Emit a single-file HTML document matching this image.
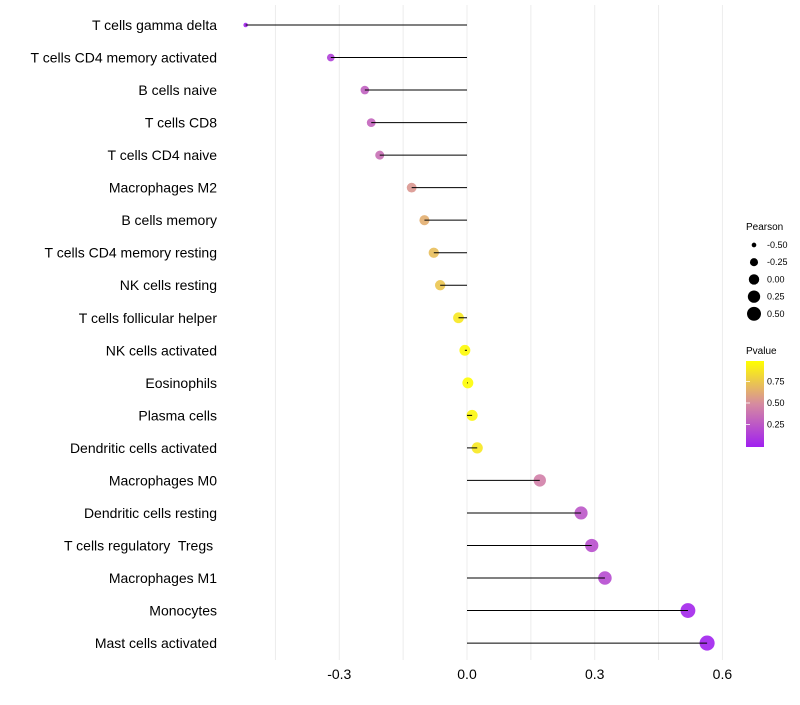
<!DOCTYPE html>
<html><head><meta charset="utf-8"><style>
body{margin:0;background:#fff;font-family:"Liberation Sans",sans-serif}
text{white-space:pre}
</style></head><body>
<svg id="c" width="800" height="700" xmlns="http://www.w3.org/2000/svg">
<defs><linearGradient id="pg" x1="0" y1="1" x2="0" y2="0">
<stop offset="0" stop-color="#a020f0"/><stop offset="0.5" stop-color="#d68ba0"/><stop offset="1" stop-color="#ffff00"/></linearGradient></defs>
<g id="grid"></g><g id="dots"></g><g id="marks"></g><g id="labels"></g>
<g font-size="9" fill="#000">
<text x="746" y="230" font-size="10">Pearson</text>
<g id="sizeleg"></g>
<text x="746" y="354" font-size="10">Pvalue</text>
<rect x="746" y="361" width="18" height="86" fill="url(#pg)"/>
<g id="pleg"></g>
</g>
</svg>
<script>
const categories=["T cells gamma delta","T cells CD4 memory activated","B cells naive","T cells CD8","T cells CD4 naive","Macrophages M2","B cells memory","T cells CD4 memory resting","NK cells resting","T cells follicular helper","NK cells activated","Eosinophils","Plasma cells","Dendritic cells activated","Macrophages M0","Dendritic cells resting","T cells regulatory  Tregs ","Macrophages M1","Monocytes","Mast cells activated"];
const pearson=[-0.52,-0.32,-0.24,-0.225,-0.205,-0.13,-0.1,-0.078,-0.063,-0.02,-0.005,0.002,0.012,0.024,0.171,0.268,0.293,0.324,0.519,0.564];
const pvalue=[0.02,0.15,0.3,0.32,0.37,0.55,0.65,0.72,0.75,0.9,0.98,0.99,0.96,0.9,0.45,0.25,0.22,0.2,0.03,0.01];
const xTicks=[-0.3,0,0.3,0.6];
const xTickLabels=["-0.3","0.0","0.3","0.6"];
const sizeLegend=[-0.5,-0.25,0,0.25,0.5];
const sizeLegendLabels=["-0.50","-0.25","0.00","0.25","0.50"];
const pTicks=[0.25,0.5,0.75];
const pTickLabels=["0.25","0.50","0.75"];
const NS="http://www.w3.org/2000/svg";
const x=v=>467+v*425.7;
const y=i=>25+i*32.53;
const r=v=>Math.sqrt(Math.max(2,30+48*v));
function hex(h){return [1,3,5].map(k=>parseInt(h.substr(k,2),16));}
function col(p){const a=hex("#a020f0"),m=hex("#d68ba0"),b=hex("#ffff00");let s,e,t;
 if(p<0.5){s=a;e=m;t=p/0.5}else{s=m;e=b;t=(p-0.5)/0.5}
 return "rgb("+s.map((c,k)=>Math.round(c+(e[k]-c)*t)).join(",")+")";}
function mk(tag,at,par){const e=document.createElementNS(NS,tag);for(const k in at)e.setAttribute(k,at[k]);document.getElementById(par).appendChild(e);return e;}
for(let v=-0.45;v<=0.61;v+=0.15){const g=mk("line",{x1:x(v),x2:x(v),y1:5,y2:660,stroke:"#ececec","stroke-width":1},"grid");

}
xTicks.forEach((t,i)=>{const e=mk("text",{x:x(t),y:679,"text-anchor":"middle","font-size":14,fill:"#000"},"labels");e.textContent=xTickLabels[i];

});
categories.forEach((c,i)=>{
 const t=mk("text",{x:217,y:y(i)+5,"text-anchor":"end","font-size":14,fill:"#000"},"labels");t.textContent=c;
 
 
 const l=mk("line",{x1:x(0),x2:x(pearson[i]),y1:y(i),y2:y(i),stroke:"#000","stroke-width":1},"marks");
 
 
 const d=mk("circle",{cx:x(pearson[i]),cy:y(i),r:r(pearson[i]),fill:col(pvalue[i]),"fill-opacity":0.9},"dots");
 
 
});
sizeLegend.forEach((v,i)=>{const cy=245+i*17.2;
 const d=mk("circle",{cx:754,cy:cy,r:r(v)*0.95,fill:"#000"},"sizeleg");
 
 
 const t=mk("text",{x:767,y:cy+3,"font-size":9},"sizeleg");t.textContent=sizeLegendLabels[i];
 
 });
pTicks.forEach((p,i)=>{const cy=446-p*86;
 const t=mk("text",{x:767,y:cy+3,"font-size":9},"pleg");t.textContent=pTickLabels[i];
 
 
 const l=mk("line",{x1:746,x2:750,y1:cy,y2:cy,stroke:"#fff","stroke-width":0.8},"pleg");
 
 });
</script>
</body></html>
